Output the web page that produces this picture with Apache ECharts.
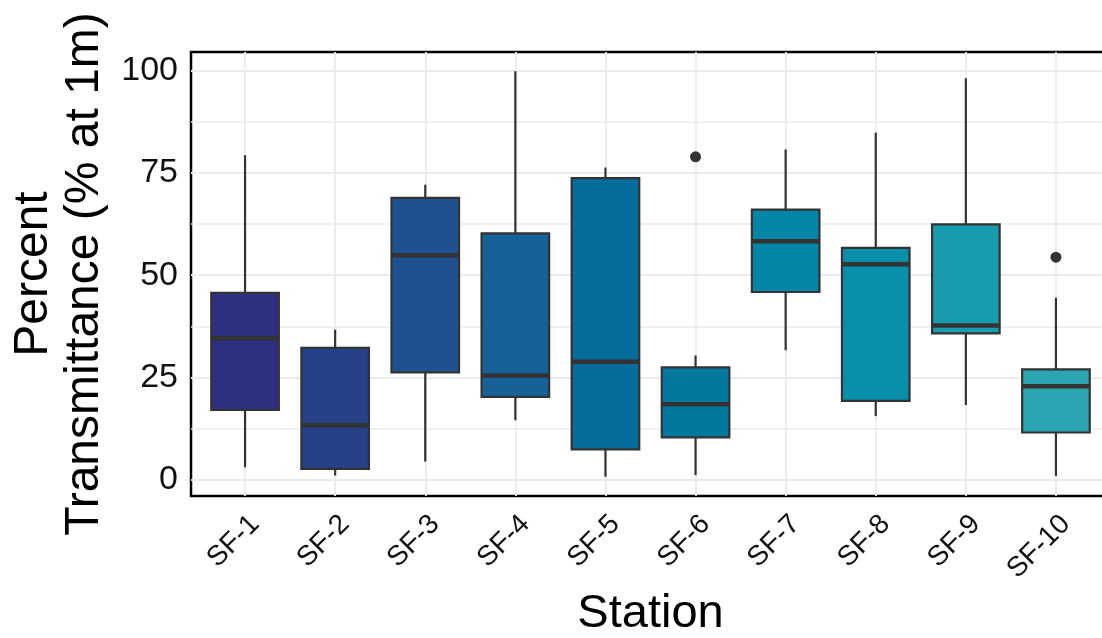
<!DOCTYPE html>
<html>
<head>
<meta charset="utf-8">
<script src="https://cdn.jsdelivr.net/npm/echarts@6/dist/echarts.min.js"></script>
<style>
html,body{margin:0;padding:0;background:#fff;}
#chart{width:1102px;height:638px;}
</style>
</head>
<body>
<div id="chart"></div>
<script>
// ---- data ----
const stations = ['SF-1','SF-2','SF-3','SF-4','SF-5','SF-6','SF-7','SF-8','SF-9','SF-10'];
const whiskerLow  = [3.1, 1.1, 4.5, 14.6, 0.8, 1.2, 31.7, 15.6, 18.3, 1.0];
const q1          = [17.1, 2.7, 26.3, 20.3, 7.5, 10.4, 45.9, 19.3, 35.8, 11.6];
const median      = [34.6, 13.4, 54.9, 25.5, 28.9, 18.5, 58.3, 52.7, 37.7, 22.9];
const q3          = [45.7, 32.3, 68.9, 60.2, 73.7, 27.5, 66.0, 56.7, 62.4, 27.0];
const whiskerHigh = [79.3, 36.7, 72.1, 99.8, 76.3, 30.4, 80.7, 84.8, 98.1, 44.5];
const outlierStation = [5, 9];
const outlierValue   = [78.9, 54.4];
const yTicks = [0, 25, 50, 75, 100];
const yMinorLines = [12.5, 37.5, 62.5, 87.5];
const boxColors = ['#2d2f80','#264187','#1f5191','#156198','#066c9c','#02789f','#0386a8','#0890ab','#1a9caf','#2aa5b1'];

// ---- build ----
const boxData = stations.map((s, i) => [i, whiskerLow[i], q1[i], median[i], q3[i], whiskerHigh[i]]);
const outliers = outlierStation.map((s, i) => [s, outlierValue[i]]);
const xIdx = stations.map((s, i) => i);
const FONT = '"Liberation Sans", Arial, sans-serif';
const GRID_COLOR = '#ebebeb';

const chart = echarts.init(document.getElementById('chart'), null, {renderer: 'canvas'});
chart.setOption({
  animation: false,
  backgroundColor: '#fff',
  grid: {left: 191, top: 52, bottom: 142, width: 919, outerBoundsMode: 'none', containLabel: false,
    show: true, borderColor: '#000', borderWidth: 2.5, backgroundColor: 'transparent'},
  xAxis: {
    type: 'value', min: -0.6, max: 9.6,
    axisLine: {show: false}, axisTick: {show: false, customValues: xIdx},
    splitLine: {show: true, lineStyle: {color: GRID_COLOR, width: 1.8}},
    axisLabel: {customValues: xIdx, formatter: v => stations[Math.round(v)], rotate: 45, align: 'right', verticalAlign: 'top',
      fontSize: 28, fontFamily: FONT, color: '#111', margin: 14},
    name: 'Station', nameLocation: 'middle', nameGap: 95,
    nameTextStyle: {fontSize: 47, fontFamily: FONT, color: '#000'}
  },
  yAxis: [{
    type: 'value', min: -3.9, max: 104.5,
    axisLine: {show: false}, axisTick: {show: false, customValues: yTicks},
    splitLine: {show: true, lineStyle: {color: GRID_COLOR, width: 1.8}},
    axisLabel: {customValues: yTicks, fontSize: 34, fontFamily: FONT, color: '#111', margin: 13},
    name: 'Percent\nTransmittance (% at 1m)', nameLocation: 'middle', nameRotate: 90, nameGap: 76,
    nameTextStyle: {fontSize: 48, fontFamily: FONT, color: '#000', lineHeight: 51, align: 'center'}
  }, {
    type: 'value', min: -3.9, max: 104.5, position: 'left',
    axisLine: {show: false}, axisTick: {show: false, customValues: yMinorLines},
    axisLabel: {show: false, customValues: yMinorLines},
    splitLine: {show: true, lineStyle: {color: GRID_COLOR, width: 1.5}}
  }],
  series: [
    {
      type: 'custom', z: 2,
      data: boxData,
      renderItem: function (params, api) {
        const x = api.value(0);
        const idx = params.dataIndex;
        const w = api.size([1, 0])[0] * 0.75;
        const pLow = api.coord([x, api.value(1)]);
        const pQ1 = api.coord([x, api.value(2)]);
        const pMed = api.coord([x, api.value(3)]);
        const pQ3 = api.coord([x, api.value(4)]);
        const pHigh = api.coord([x, api.value(5)]);
        const stroke = '#333333';
        return {
          type: 'group',
          children: [
            {type: 'line', shape: {x1: pLow[0], y1: pLow[1], x2: pQ1[0], y2: pQ1[1]}, style: {stroke: stroke, lineWidth: 2.2}},
            {type: 'line', shape: {x1: pQ3[0], y1: pQ3[1], x2: pHigh[0], y2: pHigh[1]}, style: {stroke: stroke, lineWidth: 2.2}},
            {type: 'rect', shape: {x: pQ3[0] - w / 2, y: pQ3[1], width: w, height: pQ1[1] - pQ3[1]}, style: {fill: boxColors[idx], stroke: stroke, lineWidth: 2.2}},
            {type: 'line', shape: {x1: pMed[0] - w / 2, y1: pMed[1], x2: pMed[0] + w / 2, y2: pMed[1]}, style: {stroke: stroke, lineWidth: 4.5}}
          ]
        };
      }
    },
    {
      type: 'scatter', z: 3, data: outliers, symbol: 'circle', symbolSize: 11,
      itemStyle: {color: '#333333', opacity: 1}
    }
  ]
});
</script>
</body>
</html>
